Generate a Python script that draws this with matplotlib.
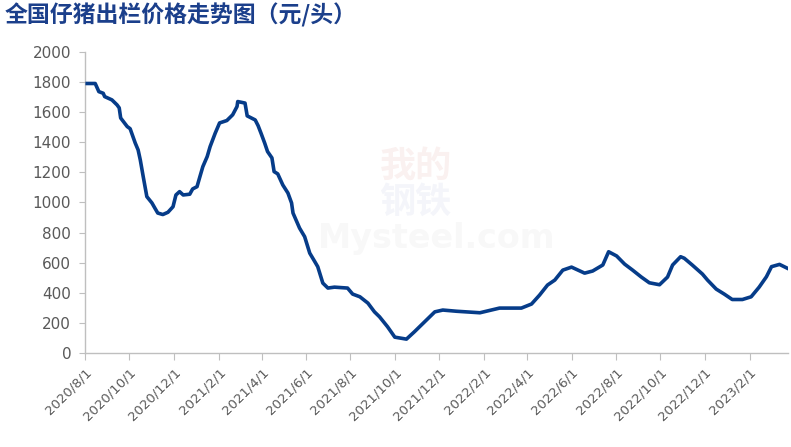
import numpy as np
import pandas as pd
import matplotlib.pyplot as plt

plt.rcParams['font.family'] = ['DejaVu Sans', 'Noto Sans CJK SC']

# weekly piglet price (yuan/head)
dates = ['2020-08-04', '2020-08-15', '2020-08-20', '2020-08-26', '2020-08-28',
         '2020-09-07', '2020-09-14', '2020-09-17', '2020-09-19', '2020-09-28',
         '2020-10-02', '2020-10-09', '2020-10-13', '2020-10-16', '2020-10-20',
         '2020-10-25', '2020-11-01', '2020-11-05', '2020-11-09', '2020-11-16',
         '2020-11-23', '2020-11-30', '2020-12-04', '2020-12-09', '2020-12-14',
         '2020-12-23', '2020-12-27', '2021-01-02', '2021-01-06', '2021-01-10',
         '2021-01-16', '2021-01-20', '2021-01-27', '2021-02-02', '2021-02-12',
         '2021-02-20', '2021-02-26', '2021-02-27', '2021-03-09', '2021-03-12',
         '2021-03-23', '2021-03-27', '2021-03-31', '2021-04-05', '2021-04-09',
         '2021-04-15', '2021-04-18', '2021-04-23', '2021-04-30', '2021-05-07',
         '2021-05-12', '2021-05-14', '2021-05-23', '2021-05-30', '2021-06-06',
         '2021-06-13', '2021-06-17', '2021-06-24', '2021-07-01', '2021-07-10',
         '2021-07-28', '2021-08-04', '2021-08-14', '2021-08-25', '2021-09-03',
         '2021-09-10', '2021-09-21', '2021-10-01', '2021-10-17', '2021-10-28',
         '2021-11-11', '2021-11-25', '2021-12-06', '2021-12-25', '2022-01-26',
         '2022-02-22', '2022-03-24', '2022-04-07', '2022-04-18', '2022-04-29',
         '2022-05-09', '2022-05-20', '2022-06-01', '2022-06-19', '2022-06-30',
         '2022-07-14', '2022-07-22', '2022-08-02', '2022-08-13', '2022-08-24',
         '2022-09-05', '2022-09-16', '2022-09-30', '2022-10-11', '2022-10-18',
         '2022-10-29', '2022-11-03', '2022-11-14', '2022-11-28', '2022-12-05',
         '2022-12-17', '2022-12-28', '2023-01-08', '2023-01-22', '2023-02-03',
         '2023-02-14', '2023-02-24', '2023-03-03', '2023-03-14', '2023-03-25']
prices = [1790, 1790, 1736, 1725, 1703,
          1681, 1648, 1628, 1561, 1504,
          1490, 1395, 1349, 1282, 1172,
          1039, 997, 963, 930, 920,
          935, 972, 1050, 1072, 1050,
          1055, 1090, 1105, 1172, 1238,
          1305, 1371, 1460, 1528, 1544,
          1582, 1637, 1670, 1660, 1575,
          1548, 1510, 1460, 1395, 1338,
          1296, 1205, 1190, 1116, 1063,
          997, 930, 830, 773, 664,
          607, 574, 465, 432, 438,
          432, 392, 374, 332, 274,
          241, 175, 106, 93, 142,
          208, 274, 286, 278, 268,
          299, 299, 326, 385, 452,
          485, 551, 571, 531, 545,
          585, 673, 645, 591, 551,
          505, 467, 454, 505, 585,
          640, 630, 585, 525, 485,
          425, 392, 356, 356, 374,
          438, 507, 574, 589, 563]
tick_dates = ['2020-08-01', '2020-10-01', '2020-12-01', '2021-02-01', '2021-04-01',
              '2021-06-01', '2021-08-01', '2021-10-01', '2021-12-01', '2022-02-01',
              '2022-04-01', '2022-06-01', '2022-08-01', '2022-10-01', '2022-12-01',
              '2023-02-01']
tick_labels = ['2020/8/1', '2020/10/1', '2020/12/1', '2021/2/1', '2021/4/1',
               '2021/6/1', '2021/8/1', '2021/10/1', '2021/12/1', '2022/2/1',
               '2022/4/1', '2022/6/1', '2022/8/1', '2022/10/1', '2022/12/1',
               '2023/2/1']

x = pd.to_datetime(dates)

fig = plt.figure(figsize=(7.91, 4.47), dpi=100)
ax = fig.add_axes([0.1075, 0.21, 0.889, 0.674])

# faint watermark
ax.text(0.47, 0.62, '我的', transform=ax.transAxes, fontsize=26, color='#C0392B',
        alpha=0.07, ha='center', va='center', family=['Noto Sans CJK SC'], fontweight='bold')
ax.text(0.47, 0.50, '钢铁', transform=ax.transAxes, fontsize=26, color='#2E4A9E',
        alpha=0.05, ha='center', va='center', family=['Noto Sans CJK SC'], fontweight='bold')
ax.text(0.50, 0.38, 'Mysteel.com', transform=ax.transAxes, fontsize=24, color='#9E9E9E',
        alpha=0.07, ha='center', va='center', fontweight='bold')

ax.plot(x, prices, color='#063C89', linewidth=2.6, solid_joinstyle='round', zorder=3)

ax.set_ylim(0, 2000)
ax.set_yticks(np.arange(0, 2001, 200))
ax.set_xlim(pd.Timestamp('2020-08-01'), pd.Timestamp('2023-03-26'))
ax.set_xticks(pd.to_datetime(tick_dates))
ax.set_xticklabels(tick_labels, rotation=45, ha='right', rotation_mode='anchor')

for side in ['top', 'right']:
    ax.spines[side].set_visible(False)
for side in ['left', 'bottom']:
    ax.spines[side].set_color('#BFBFBF')
    ax.spines[side].set_linewidth(1.0)
ax.tick_params(axis='y', colors='#BFBFBF', labelcolor='#595959', labelsize=11, length=4,
               pad=6)
ax.tick_params(axis='x', colors='#BFBFBF', labelcolor='#595959', labelsize=9.5, length=5,
               pad=4)

fig.text(0.006, 0.965, '全国仔猪出栏价格走势图（元/头）', fontsize=16.5, fontweight='bold',
         color='#1B3F8B', ha='left', va='center', family=['Noto Sans CJK SC', 'DejaVu Sans'])

plt.savefig('out.png', dpi=100)
